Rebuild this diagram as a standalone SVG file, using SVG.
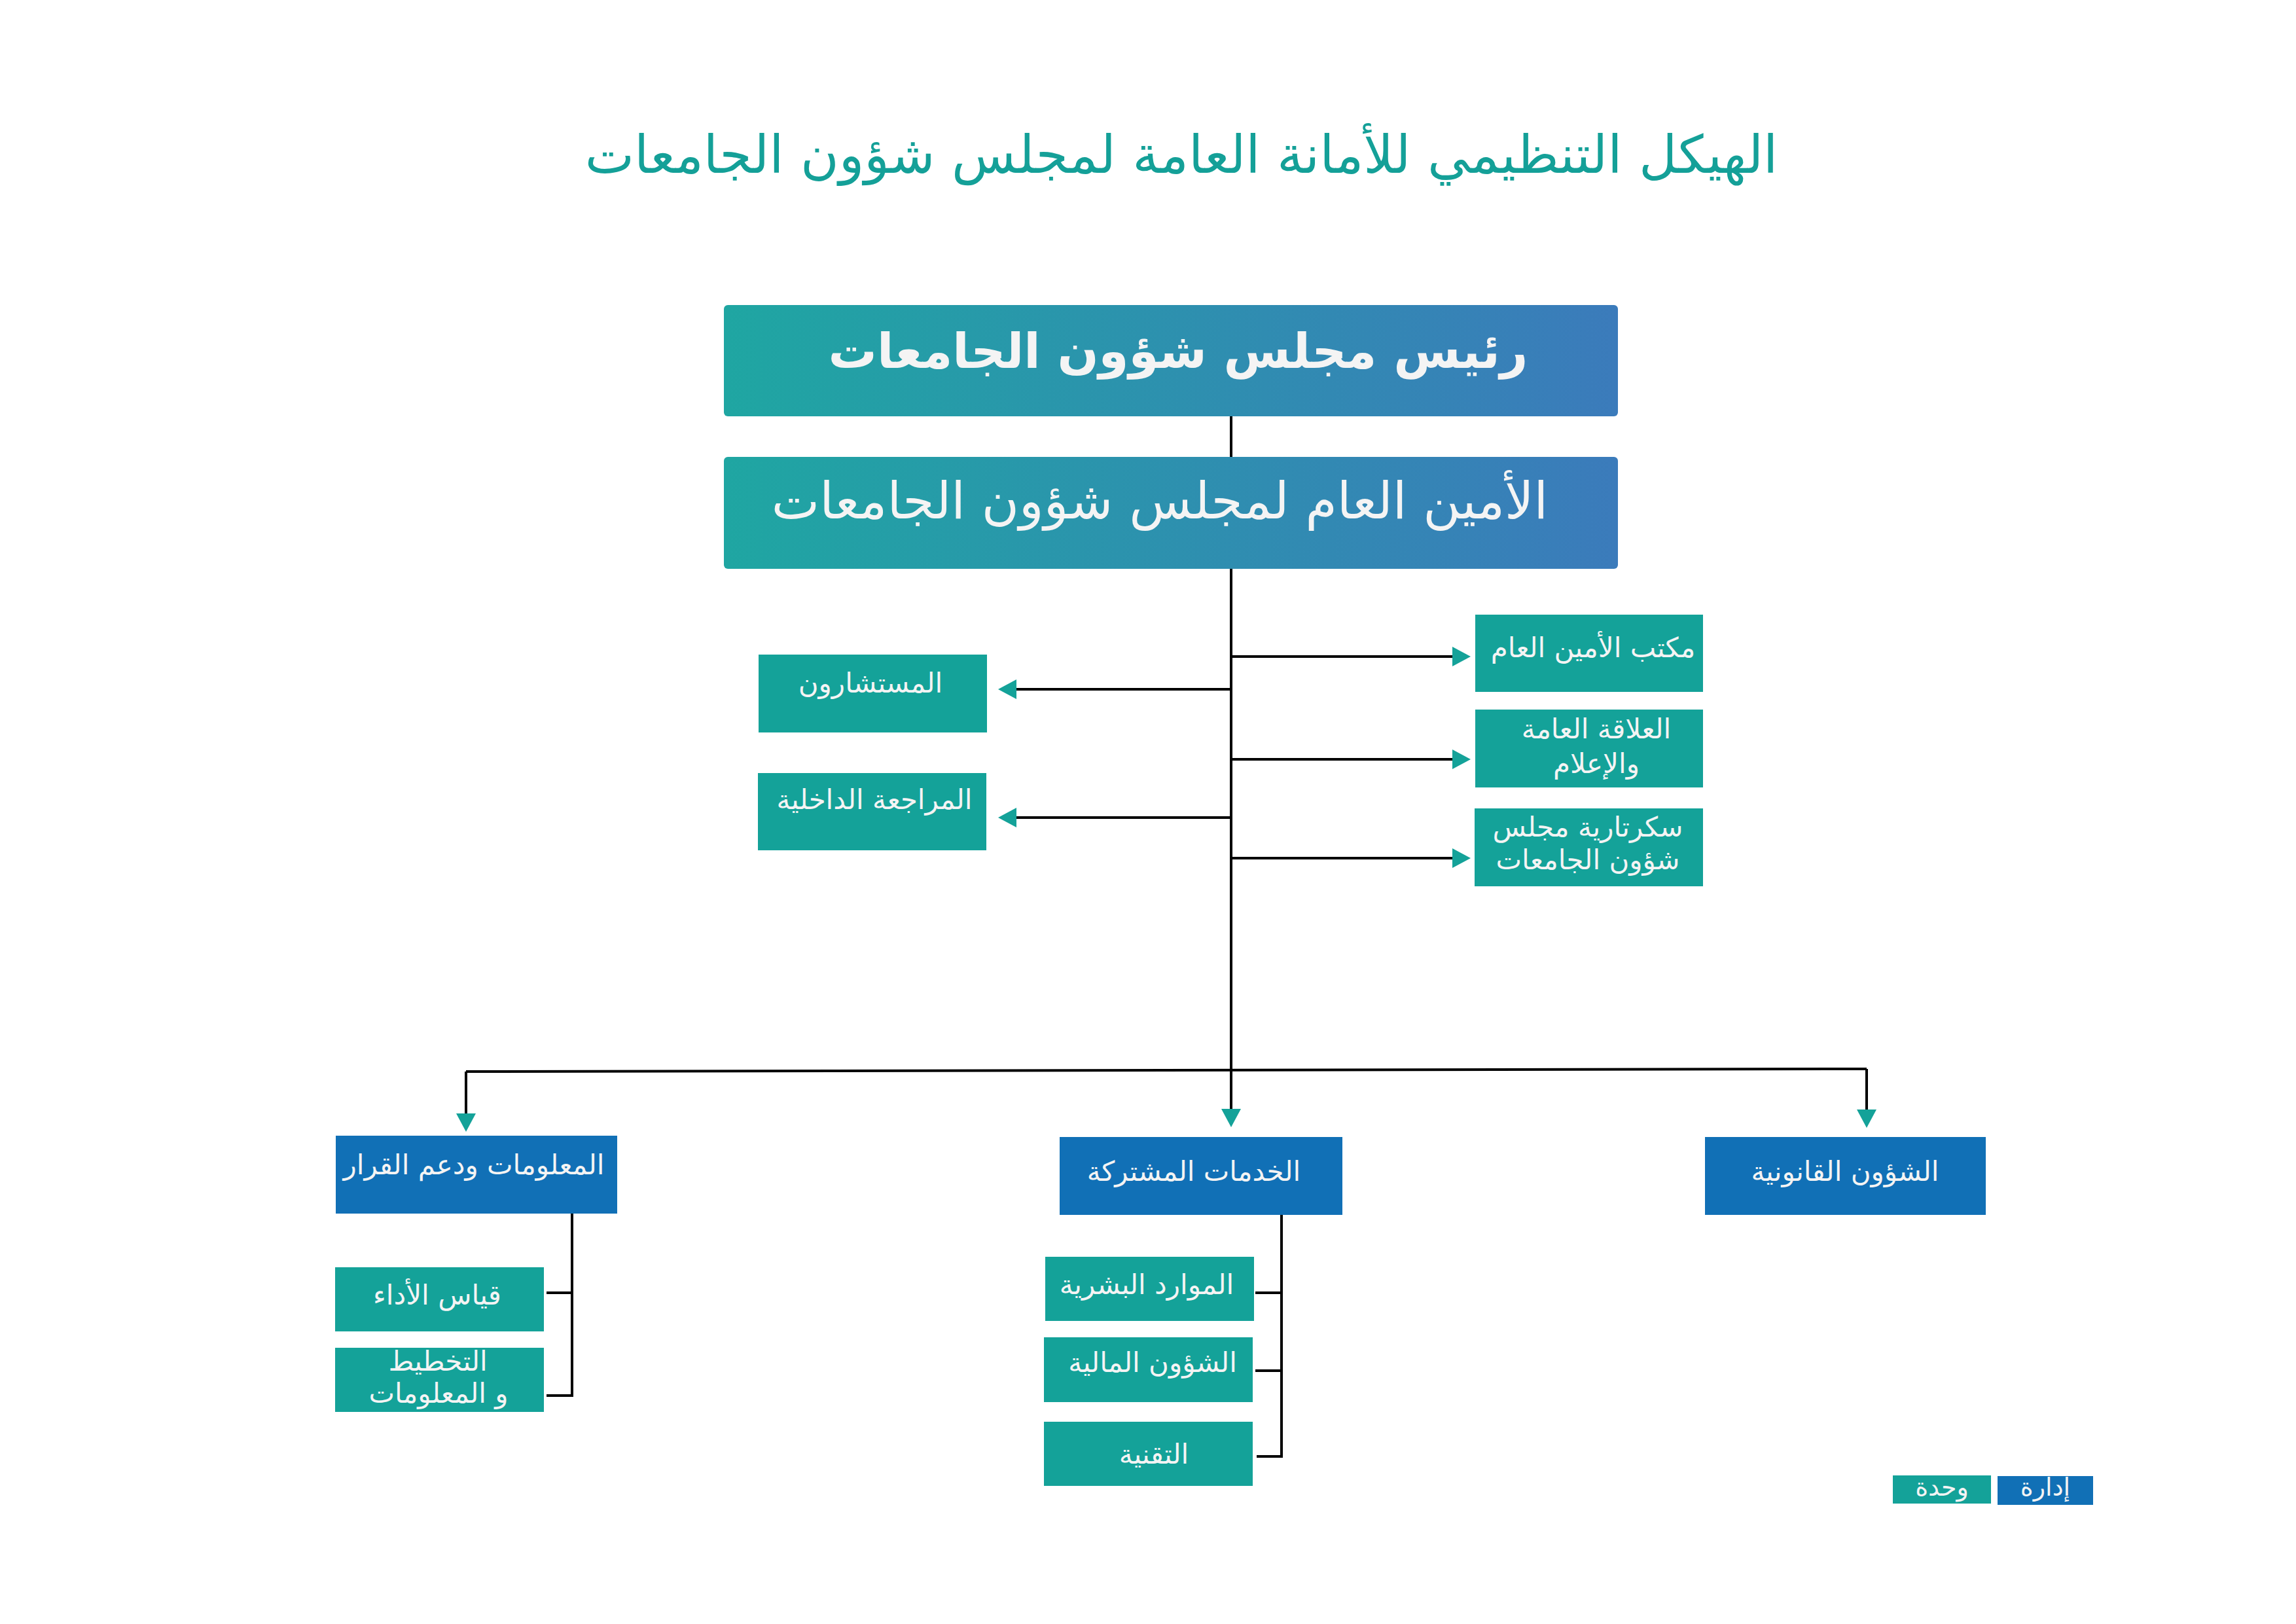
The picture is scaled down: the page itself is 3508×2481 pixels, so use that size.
<svg xmlns="http://www.w3.org/2000/svg" width="3508" height="2481" viewBox="0 0 3508 2481">
<style>
.t{font-family:'DejaVu Sans','Noto Sans',sans-serif;fill:#f4f4f4;text-anchor:middle}
.teal{fill:#14a299}
.blue{fill:#1170b6}
.ln{stroke:#000;stroke-width:4;fill:none}
.s36{font-size:42px}
</style>
<defs>
<linearGradient id="g" x1="0" y1="0" x2="1" y2="0">
<stop offset="0" stop-color="#1fa6a2"/>
<stop offset="1" stop-color="#3b7bbb"/>
</linearGradient>
<marker id="ar" markerUnits="userSpaceOnUse" markerWidth="30" markerHeight="32" refX="0" refY="16" orient="auto" viewBox="0 0 30 32">
<path d="M0,1 L28,16 L0,31 z" fill="#14a299"/>
</marker>
</defs>
<rect width="3508" height="2481" fill="#fff"/>
<text x="1805" y="264" font-family="'DejaVu Sans','Noto Sans',sans-serif" font-size="80" fill="#14a098" text-anchor="middle">الهيكل التنظيمي للأمانة العامة لمجلس شؤون الجامعات</text>

<g id="connectors">
<line class="ln" x1="1881" y1="636" x2="1881" y2="1636" stroke-width="3.5"/>
<path class="ln" d="M1881,1636 V1694" marker-end="url(#ar)"/>
<path class="ln" d="M712,1637 L2852,1633"/>
<path class="ln" d="M712,1637 V1701" marker-end="url(#ar)"/>
<path class="ln" d="M2852,1633 V1695" marker-end="url(#ar)"/>
<path class="ln" d="M1881,1003 H2219" marker-end="url(#ar)"/>
<path class="ln" d="M1881,1160 H2219" marker-end="url(#ar)"/>
<path class="ln" d="M1881,1311 H2219" marker-end="url(#ar)"/>
<path class="ln" d="M1881,1053 H1553" marker-end="url(#ar)"/>
<path class="ln" d="M1881,1249 H1553" marker-end="url(#ar)"/>
<path class="ln" d="M874,1854 V2132 H835 M874,1975 H835"/>
<path class="ln" d="M1958,1856 V2225 H1920 M1958,1975 H1918 M1958,2094 H1918"/>
</g>

<g id="n-chairman">
<rect x="1106" y="466" width="1366" height="170" rx="6" fill="url(#g)"/>
<text class="t" x="1800" y="562" font-size="74" font-weight="bold">رئيس مجلس شؤون الجامعات</text>
</g>
<g id="n-secgen">
<rect x="1106" y="698" width="1366" height="171" rx="6" fill="url(#g)"/>
<text class="t" x="1772" y="792" font-size="78">الأمين العام لمجلس شؤون الجامعات</text>
</g>
<g id="n-office">
<rect class="teal" x="2254" y="939" width="348" height="118"/>
<text class="t s36" x="2434" y="1004">مكتب الأمين العام</text>
</g>
<g id="n-pr">
<rect class="teal" x="2254" y="1084" width="348" height="119"/>
<text class="t s36" x="2439" y="1128">العلاقة العامة</text>
<text class="t s36" x="2439" y="1181">والإعلام</text>
</g>
<g id="n-secretariat">
<rect class="teal" x="2253" y="1235" width="349" height="119"/>
<text class="t s36" x="2426" y="1278">سكرتارية مجلس</text>
<text class="t s36" x="2426" y="1328">شؤون الجامعات</text>
</g>
<g id="n-advisors">
<rect class="teal" x="1159" y="1000" width="349" height="119"/>
<text class="t s36" x="1330" y="1058">المستشارون</text>
</g>
<g id="n-audit">
<rect class="teal" x="1158" y="1181" width="349" height="118"/>
<text class="t s36" x="1336" y="1236">المراجعة الداخلية</text>
</g>
<g id="n-info">
<rect class="blue" x="513" y="1735" width="430" height="119"/>
<text class="t s36" x="724" y="1794">المعلومات ودعم القرار</text>
</g>
<g id="n-shared">
<rect class="blue" x="1619" y="1737" width="432" height="119"/>
<text class="t s36" x="1824" y="1804">الخدمات المشتركة</text>
</g>
<g id="n-legal">
<rect class="blue" x="2605" y="1737" width="429" height="119"/>
<text class="t s36" x="2819" y="1804">الشؤون القانونية</text>
</g>
<g id="n-perf">
<rect class="teal" x="512" y="1936" width="319" height="98"/>
<text class="t s36" x="668" y="1993">قياس الأداء</text>
</g>
<g id="n-plan">
<rect class="teal" x="512" y="2059" width="319" height="98"/>
<text class="t s36" x="669" y="2094">التخطيط</text>
<text class="t s36" x="670" y="2143">و المعلومات</text>
</g>
<g id="n-hr">
<rect class="teal" x="1597" y="1920" width="319" height="98"/>
<text class="t s36" x="1752" y="1977">الموارد البشرية</text>
</g>
<g id="n-finance">
<rect class="teal" x="1595" y="2043" width="319" height="99"/>
<text class="t s36" x="1761" y="2096">الشؤون المالية</text>
</g>
<g id="n-tech">
<rect class="teal" x="1595" y="2172" width="319" height="98"/>
<text class="t s36" x="1763" y="2236">التقنية</text>
</g>
<g id="legend-unit">
<rect class="teal" x="2892" y="2254" width="150" height="43"/>
<text class="t" x="2967" y="2285" font-size="38">وحدة</text>
</g>
<g id="legend-dept">
<rect class="blue" x="3052" y="2255" width="146" height="44"/>
<text class="t" x="3125" y="2285" font-size="38">إدارة</text>
</g>
</svg>
